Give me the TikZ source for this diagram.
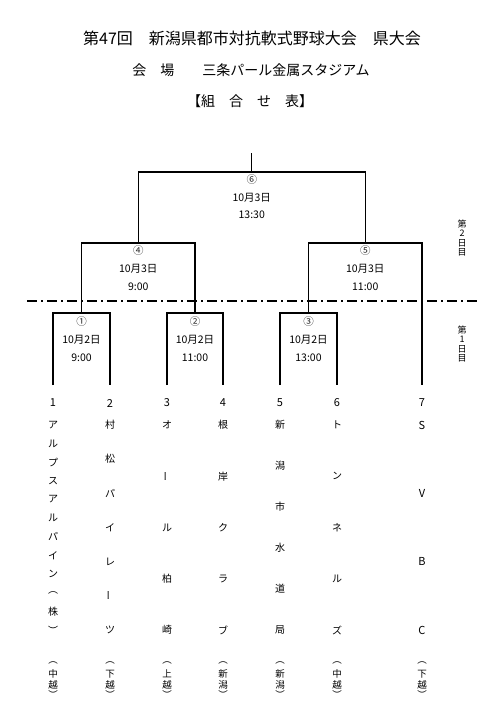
\documentclass[tikz,border=0pt]{standalone}
\usepackage{fontspec}
\usepackage{graphicx}
\setmainfont{Noto Sans CJK JP}
\newcommand\mychoon{\rotatebox{90}{ー}}
\begin{document}
\begin{tikzpicture}[x=1pt,y=-1pt,
  bline/.style={line width=1.4pt},
  ttl/.style={font=\fontsize{16}{18}\selectfont, inner sep=0},
  sub/.style={font=\fontsize{14}{16}\selectfont, inner sep=0},
  circ/.style={font=\fontsize{10.5}{11}\selectfont, inner sep=0, text=black!85},
  info/.style={font=\fontsize{10.5}{12}\selectfont, inner sep=0},
  num/.style={font=\fontsize{11}{12}\selectfont, inner sep=0},
  tchar/.style={font=\fontsize{10}{11}\selectfont, inner sep=0},
  region/.style={font=\fontsize{9.5}{10}\selectfont, inner sep=0},
  day/.style={font=\fontsize{9}{10}\selectfont, inner sep=0}]
\useasboundingbox (0,0) rectangle (480,702);

% titles
\node[ttl] (title) at (252,38) {第47回　新潟県都市対抗軟式野球大会　県大会};
\node[sub] (venue) at (251,70) {会　場　　三条パール金属スタジアム};
\node[sub] (kumi) at (250,101) {【組　合　せ　表】};

% bracket coordinates
\coordinate (t1) at (53,385);
\coordinate (t2) at (110,385);
\coordinate (t3) at (167,385);
\coordinate (t4) at (223,385);
\coordinate (t5) at (280,385);
\coordinate (t6) at (337,385);
\coordinate (t7) at (422,385);
\coordinate (m1) at (81.5,313);
\coordinate (m2) at (195,313);
\coordinate (m3) at (308.5,313);
\coordinate (m4) at (138.25,243);
\coordinate (m5) at (365.25,243);
\coordinate (m6) at (251.75,172);
\coordinate (top) at (251.75,153);

\draw[bline] (t1) |- (m1) -| (t2);
\draw[bline] (t3) |- (m2) -| (t4);
\draw[bline] (t5) |- (m3) -| (t6);
\draw[bline] (m1) |- (m4) -| (m2);
\draw[bline] (m3) |- (m5) -| (t7);
\draw[bline] (m4) |- (m6) -| (m5);
\draw[bline] (m6) -- (top);

% day divider
\coordinate (dl) at (27,301);
\coordinate (dr) at (480,301);
\draw[line width=1.3pt, dash pattern=on 10pt off 4pt on 2pt off 4pt] (dl) -- (dr);

% match labels
\node[circ] (g6) at (251.75,180) {⑥};
\node[info] (g6d) at (251.75,198) {10月3日};
\node[info] (g6t) at (251.75,215) {13:30};
\node[circ] (g4) at (138.25,251) {④};
\node[info] (g4d) at (138.25,268.5) {10月3日};
\node[info] (g4t) at (138.25,286.5) {9:00};
\node[circ] (g5) at (365.25,251) {⑤};
\node[info] (g5d) at (365.25,268.5) {10月3日};
\node[info] (g5t) at (365.25,286.5) {11:00};
\node[circ] (g1) at (81.5,321.5) {①};
\node[info] (g1d) at (81.5,340) {10月2日};
\node[info] (g1t) at (81.5,357.5) {9:00};
\node[circ] (g2) at (195,321.5) {②};
\node[info] (g2d) at (195,340) {10月2日};
\node[info] (g2t) at (195,357.5) {11:00};
\node[circ] (g3) at (308.5,321.5) {③};
\node[info] (g3d) at (308.5,340) {10月2日};
\node[info] (g3t) at (308.5,357.5) {13:00};

% day labels
\foreach \c [count=\i from 0] in {第,2,日,目}
  \node[day] (d2-\i) at (462,{224+\i*9.5}) {\c};
\foreach \c [count=\i from 0] in {第,1,日,目}
  \node[day] (d1-\i) at (462,{330+\i*9.5}) {\c};

% team numbers
\foreach \x [count=\i] in {53,110,167,223,280,337,422}
  \node[num] (n\i) at (\x,403) {\i};

% team names
\foreach \c [count=\i from 0] in {ア,ル,プ,ス,ア,ル,パ,イ,ン,︵,株,︶}
  \node[tchar] (c1-\i) at (53,{425+\i*205/11}) {\c};
\foreach \c [count=\i from 0] in {村,松,パ,イ,レ,\mychoon,ツ}
  \node[tchar] (c2-\i) at (110,{425+\i*205/6}) {\c};
\foreach \c [count=\i from 0] in {オ,\mychoon,ル,柏,崎}
  \node[tchar] (c3-\i) at (167,{425+\i*205/4}) {\c};
\foreach \c [count=\i from 0] in {根,岸,ク,ラ,ブ}
  \node[tchar] (c4-\i) at (223,{425+\i*205/4}) {\c};
\foreach \c [count=\i from 0] in {新,潟,市,水,道,局}
  \node[tchar] (c5-\i) at (280,{425+\i*205/5}) {\c};
\foreach \c [count=\i from 0] in {ト,ン,ネ,ル,ズ}
  \node[tchar] (c6-\i) at (337,{425+\i*205/4}) {\c};
\foreach \c [count=\i from 0] in {S,V,B,C}
  \node[num] (c7-\i) at (422,{425+\i*205/3}) {\c};

% regions
\foreach \x/\a/\b [count=\i] in {53/中/越,110/下/越,167/上/越,223/新/潟,280/新/潟,337/中/越,422/下/越}{
  \node[region] (r\i-o) at (\x,663) {︵};
  \node[region] (r\i-a) at (\x,674) {\a};
  \node[region] (r\i-b) at (\x,685) {\b};
  \node[region] (r\i-c) at (\x,695) {︶};
}
\end{tikzpicture}
\end{document}
